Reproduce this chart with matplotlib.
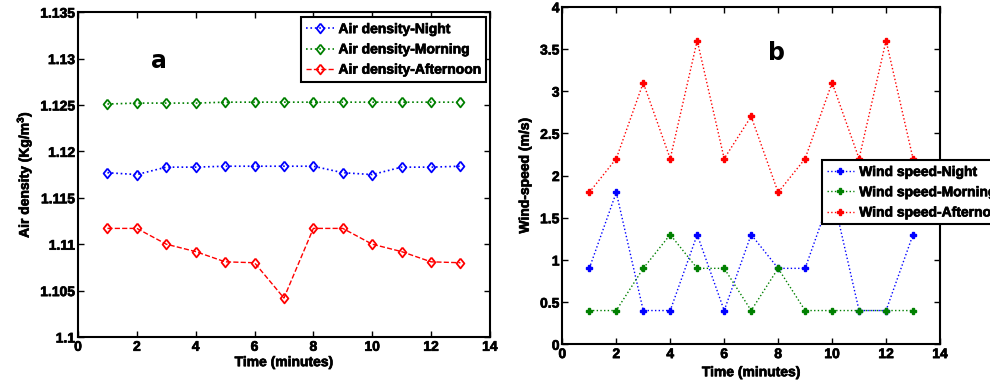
import matplotlib
matplotlib.use("Agg")
import matplotlib.pyplot as plt
import matplotlib.patheffects as pe
from matplotlib.ticker import FuncFormatter

plt.rcParams['font.family'] = ['Liberation Sans', 'DejaVu Sans']
plt.rcParams['font.weight'] = 'bold'
plt.rcParams['mathtext.fontset'] = 'custom'
plt.rcParams['mathtext.bf'] = 'Liberation Sans:bold'
plt.rcParams['mathtext.rm'] = 'Liberation Sans:bold'
plt.rcParams['mathtext.default'] = 'bf'

# time axis (minutes)
minutes = list(range(1, 14))

# panel a: air density (Kg/m^3)
dens_night = [1.1177, 1.1175, 1.1183, 1.1183, 1.1184, 1.1184, 1.1184,
              1.1184, 1.1177, 1.1175, 1.1183, 1.1183, 1.1184]
dens_morning = [1.1251, 1.1252, 1.1252, 1.1252, 1.1253, 1.1253, 1.1253,
                1.1253, 1.1253, 1.1253, 1.1253, 1.1253, 1.1253]
dens_afternoon = [1.1117, 1.1117, 1.1100, 1.1092, 1.1081, 1.1080, 1.1042,
                  1.1117, 1.1117, 1.1100, 1.1092, 1.1081, 1.1080]

# panel b: wind speed (m/s)
wind_night = [0.9, 1.8, 0.4, 0.4, 1.3, 0.4, 1.3, 0.9, 0.9, 1.8, 0.4, 0.4, 1.3]
wind_morning = [0.4, 0.4, 0.9, 1.3, 0.9, 0.9, 0.4, 0.9, 0.4, 0.4, 0.4, 0.4, 0.4]
wind_afternoon = [1.8, 2.2, 3.1, 2.2, 3.6, 2.2, 2.7, 1.8, 2.2, 3.1, 2.2, 3.6, 2.2]

blue = '#0000ff'
green = '#008000'
red = '#ff0000'

# heavier text, like the matlab export
heavy = [pe.withStroke(linewidth=0.5, foreground='black')]
# matlab-ish diamond (a bit taller than wide)
diamond = [(0, 1), (0.8, 0), (0, -1), (-0.8, 0), (0, 1)]

fig = plt.figure(figsize=(9.9, 3.84), dpi=100)
ax1 = fig.add_axes([0.0788, 0.1224, 0.416, 0.846])
ax2 = fig.add_axes([0.568, 0.1034, 0.3815, 0.879])


def style(ax):
    for s in ax.spines.values():
        s.set_linewidth(1.5)
    ax.tick_params(direction='in', length=4, width=1, top=True, right=True,
                   labelsize=10, pad=2)
    ax.set_xlim(0, 14)
    ax.set_xticks(range(0, 15, 2))
    ax.xaxis.set_major_formatter(FuncFormatter(lambda v, p: '%g' % v))
    ax.yaxis.set_major_formatter(FuncFormatter(lambda v, p: '%g' % round(v, 4)))


def make_legend(ax, anchor):
    leg = ax.legend(loc='upper left', bbox_to_anchor=anchor,
                    bbox_transform=fig.transFigure, fancybox=False, framealpha=1,
                    edgecolor='black', prop={'size': 10, 'weight': 'bold'},
                    handlelength=2.0, borderpad=0.35, labelspacing=0.45,
                    borderaxespad=0, handletextpad=0.35)
    leg.get_frame().set_linewidth(1.5)
    for t in leg.get_texts():
        t.set_path_effects(heavy)
    return leg


def heavy_ticks(ax):
    for t in ax.get_xticklabels() + ax.get_yticklabels():
        t.set_path_effects(heavy)
    ax.xaxis.label.set_path_effects(heavy)
    ax.yaxis.label.set_path_effects(heavy)


# a
ax1.plot(minutes, dens_night, ':', color=blue, marker=diamond, ms=7, mfc='none',
         mew=1.3, lw=1.2, label='Air density-Night')
ax1.plot(minutes, dens_morning, ':', color=green, marker=diamond, ms=7, mfc='none',
         mew=1.3, lw=1.2, label='Air density-Morning')
ax1.plot(minutes, dens_afternoon, '--', color=red, marker=diamond, ms=7, mfc='none',
         mew=1.3, lw=1.0, label='Air density-Afternoon')
style(ax1)
ax1.set_ylim(1.1, 1.135)
ax1.set_yticks([1.1, 1.105, 1.11, 1.115, 1.12, 1.125, 1.13, 1.135])
ax1.set_xlabel('Time (minutes)', fontsize=10, fontweight='bold', labelpad=1)
ax1.set_ylabel('Air density (Kg/m$^3$)', fontsize=10, fontweight='bold', labelpad=4)
ax1.text(0.197, 0.849, 'a', transform=ax1.transAxes, fontsize=17,
         fontweight='bold', family='DejaVu Sans', ha='center', va='center')
make_legend(ax1, (0.304, 0.955))
heavy_ticks(ax1)

# b
ax2.plot(minutes, wind_night, ':', color=blue, marker='P', ms=5, lw=1.0,
         label='Wind speed-Night')
ax2.plot(minutes, wind_morning, ':', color=green, marker='P', ms=5, lw=1.0,
         label='Wind speed-Morning')
ax2.plot(minutes, wind_afternoon, ':', color=red, marker='P', ms=5, lw=1.0,
         label='Wind speed-Afternoon')
style(ax2)
ax2.set_ylim(0, 4)
ax2.set_yticks([0, 0.5, 1, 1.5, 2, 2.5, 3, 3.5, 4])
ax2.set_xlabel('Time (minutes)', fontsize=10, fontweight='bold', labelpad=3)
ax2.set_ylabel('Wind-speed (m/s)', fontsize=10, fontweight='bold', labelpad=6)
ax2.text(0.568, 0.863, 'b', transform=ax2.transAxes, fontsize=17,
         fontweight='bold', family='DejaVu Sans', ha='center', va='center')
make_legend(ax2, (0.830, 0.583))
heavy_ticks(ax2)

fig.savefig('out.png', dpi=100)
